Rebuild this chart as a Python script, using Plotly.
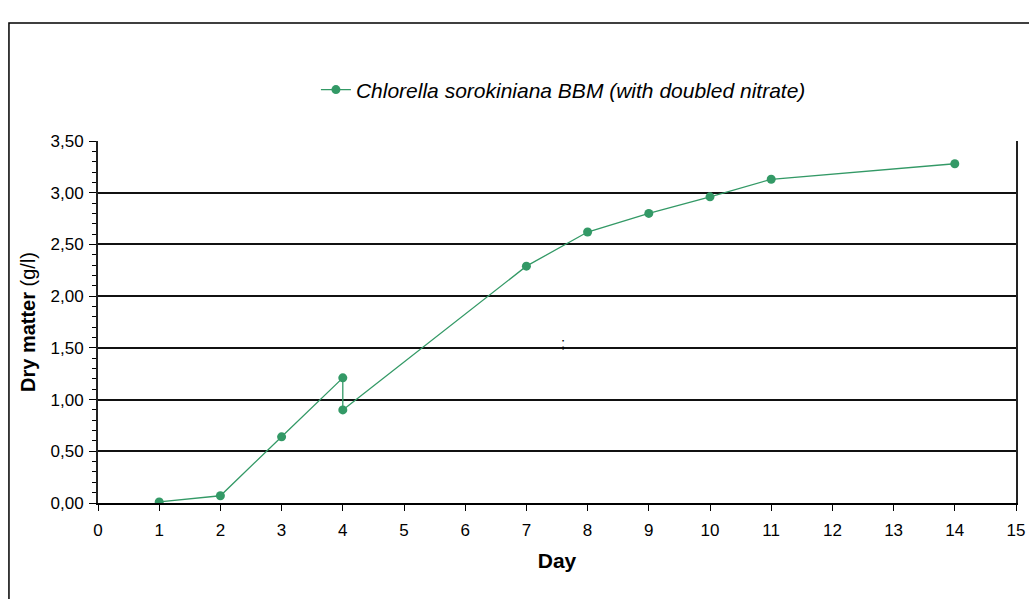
import plotly.graph_objects as go

days = [1, 2, 3, 4, 4, 7, 8, 9, 10, 11, 14]
dry_matter = [0.01, 0.07, 0.64, 1.21, 0.90, 2.29, 2.62, 2.80, 2.96, 3.13, 3.28]
series_name = "<i>Chlorella sorokiniana BBM (with doubled nitrate)</i>"
x_ticks = list(range(0, 16))
y_ticks = [0, 0.5, 1.0, 1.5, 2.0, 2.5, 3.0, 3.5]

FONT = "Liberation Sans, Arial, sans-serif"
GREEN = "#339966"

fig = go.Figure()
fig.add_trace(go.Scatter(
    x=days, y=dry_matter, mode="lines+markers", name=series_name,
    line=dict(color=GREEN, width=1.3),
    marker=dict(color=GREEN, size=9),
))

fig.add_annotation(x=7.6, y=1.55, text=";", showarrow=False,
                   font=dict(family=FONT, size=15, color="black"))

# outer chart-area border
fig.add_shape(type="rect", xref="paper", yref="paper",
              x0=-0.097, x1=1.05, y0=-0.4, y1=1.326,
              line=dict(color="black", width=1.5), layer="below")

fig.update_layout(
    width=1029, height=599,
    margin=dict(l=98, r=13, t=141, b=96, autoexpand=False),
    paper_bgcolor="white", plot_bgcolor="white",
    separators=", ",
    font=dict(family=FONT, size=17, color="black"),
    showlegend=True,
    legend=dict(x=0.507, y=1.141, xanchor="center", yanchor="middle",
                font=dict(family=FONT, size=21), bgcolor="rgba(0,0,0,0)"),
    xaxis=dict(
        range=[0, 15], tickvals=x_ticks, showgrid=False, zeroline=False,
        showline=True, linecolor="black", linewidth=1.5, automargin=False,
        ticks="outside", ticklen=6, tickcolor="black", ticklabelstandoff=5,
        title=dict(text="<b>Day</b>", font=dict(family=FONT, size=21), standoff=14),
    ),
    yaxis=dict(
        range=[0, 3.5], tickvals=y_ticks, tickformat=".2f", automargin=False,
        showgrid=True, gridcolor="#111111", gridwidth=1.6, zeroline=False,
        showline=True, linecolor="#222222", linewidth=1.8, mirror=True,
        ticks="outside", ticklen=7, tickcolor="black", ticklabelstandoff=2,
        minor=dict(dtick=0.1, ticks="outside", ticklen=4, tickcolor="black", showgrid=False),
        title=dict(text="<b>Dry matter</b> (g/l)", font=dict(family=FONT, size=20), standoff=10),
    ),
)

fig.write_html("out.html", config={"displayModeBar": False},
               post_script="document.body.style.margin='0px';")
